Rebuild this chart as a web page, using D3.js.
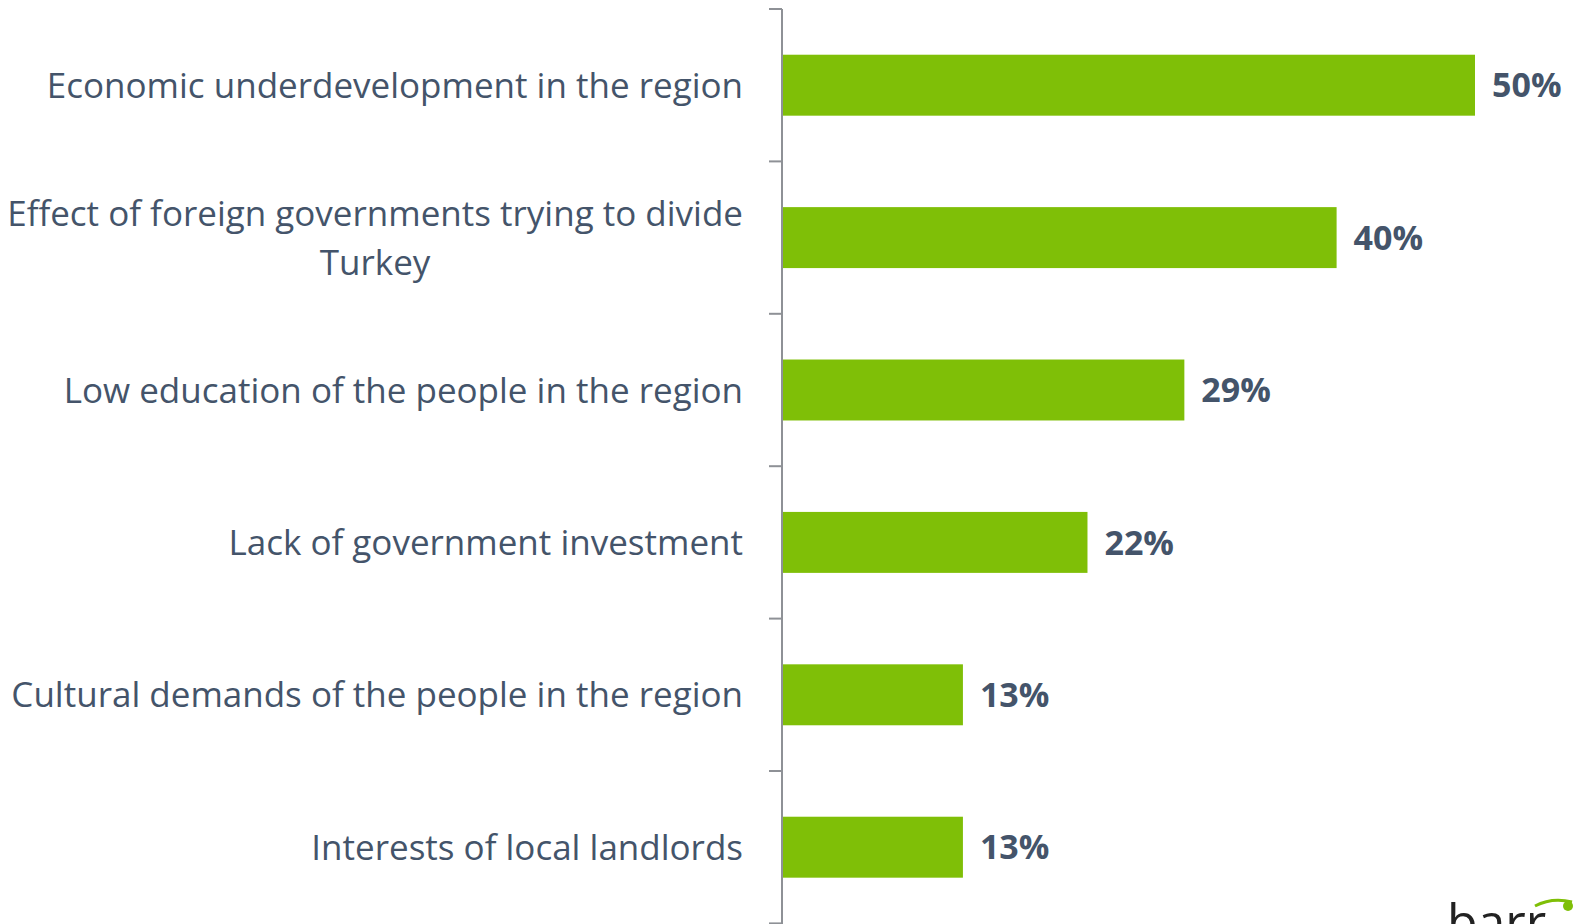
<!DOCTYPE html>
<html>
<head>
<meta charset="utf-8">
<script src="https://cdn.jsdelivr.net/npm/d3@7"></script>
<style>
  html, body { margin: 0; padding: 0; background: #ffffff; }
  svg { display: block; }
</style>
</head>
<body>
<svg id="chart" width="1574" height="924"></svg>
<script>
// Survey responses: perceived causes, share of respondents (%)
const categories = [
  ["Economic underdevelopment in the region"],
  ["Effect of foreign governments trying to divide", "Turkey"],
  ["Low education of the people in the region"],
  ["Lack of government investment"],
  ["Cultural demands of the people in the region"],
  ["Interests of local landlords"]
];
const values = [50, 40, 29, 22, 13, 13];
const valueLabels = ["50%", "40%", "29%", "22%", "13%", "13%"];

(function draw() {
  const svg = d3.select("#chart");
  const H = 924;
  const axisX = 782, plotTop = 9, plotBottom = 923.4;

  const textColor = "#44546A";
  const barColor = "#7FBF07";
  const axisColor = "#8E9196";

  const y = d3.scaleBand()
    .domain(d3.range(values.length))
    .range([plotTop, plotBottom])
    .paddingInner(0.6)
    .paddingOuter(0.3);

  const x = d3.scaleLinear().domain([0, 50]).range([axisX + 1, axisX + 1 + 692]);

  // Bars
  svg.append("g").selectAll("rect")
    .data(values)
    .join("rect")
    .attr("x", x(0))
    .attr("y", (d, i) => y(i))
    .attr("width", d => x(d) - x(0))
    .attr("height", y.bandwidth())
    .attr("fill", barColor);

  // Category axis: vertical line with ticks at band boundaries
  const step = (plotBottom - plotTop) / values.length;
  const boundaries = d3.range(values.length + 1).map(i => plotTop + i * step);
  const axisG = svg.append("g");
  axisG.append("line")
    .attr("x1", axisX).attr("x2", axisX)
    .attr("y1", plotTop).attr("y2", H)
    .attr("stroke", axisColor).attr("stroke-width", 2);
  axisG.selectAll("line.tick")
    .data(boundaries)
    .join("line")
    .attr("class", "tick")
    .attr("x1", axisX - 13).attr("x2", axisX)
    .attr("y1", d => d).attr("y2", d => d)
    .attr("stroke", axisColor).attr("stroke-width", 2);

  // Category labels (right-aligned, wrapped where needed)
  const fontSize = 35;
  const lineH = 49;
  const labelX = 743;
  const catG = svg.append("g");
  catG.selectAll("text")
    .data(categories)
    .join("text")
    .attr("font-family", "'Open Sans', sans-serif")
    .attr("font-size", fontSize)
    .attr("fill", textColor)
    .each(function(lines, i) {
      const cy = y(i) + y.bandwidth() / 2;
      const first = cy - (lines.length - 1) * lineH / 2;
      const t = d3.select(this);
      const spans = t.selectAll("tspan")
        .data(lines)
        .join("tspan")
        .attr("y", (d, k) => first + k * lineH)
        .attr("dy", "0.36em")
        .attr("text-anchor", "end")
        .attr("x", labelX)
        .text(d => d);
      if (lines.length > 1) {
        const w0 = spans.nodes()[0].getComputedTextLength();
        spans.filter((d, k) => k > 0)
          .attr("text-anchor", "middle")
          .attr("x", labelX - w0 / 2);
      }
    });

  // Value labels
  svg.append("g").selectAll("text")
    .data(values)
    .join("text")
    .attr("x", d => x(d) + 17)
    .attr("y", (d, i) => y(i) + y.bandwidth() / 2)
    .attr("dy", "0.36em")
    .attr("font-family", "'Open Sans', sans-serif")
    .attr("font-weight", "bold")
    .attr("font-size", 34)
    .attr("fill", textColor)
    .text((d, i) => valueLabels[i]);

  // Corner logo mark, running off the bottom-right edge
  const logo = svg.append("g");
  logo.append("path")
    .attr("d", "M1535,906 Q1552,897 1572,902")
    .attr("fill", "none").attr("stroke", barColor).attr("stroke-width", 3);
  logo.append("circle")
    .attr("cx", 1568).attr("cy", 906).attr("r", 5)
    .attr("fill", barColor);
  logo.append("text")
    .attr("x", 1447).attr("y", 940)
    .attr("font-family", "'Open Sans', sans-serif")
    .attr("font-size", 50)
    .attr("fill", "#222")
    .text("barr");
})();
</script>
</body>
</html>
